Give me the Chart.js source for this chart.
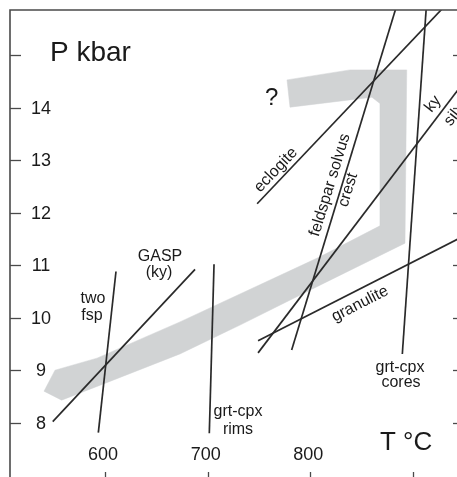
<!DOCTYPE html>
<html><head><meta charset="utf-8">
<script src="https://cdn.jsdelivr.net/npm/chart.js@4.4.0/dist/chart.umd.min.js"></script>
<style>html,body{margin:0;padding:0;background:#fff;overflow:hidden}#wrap{width:457px;height:477px;position:relative}</style>
</head><body><div id="wrap"><canvas id="c" width="457" height="477"></canvas></div>
<script>
// ---- axis ticks ----
const tempTicks = [600, 700, 800, 900];
const tempTickLabels = ['600', '700', '800', ''];
const presTicks = [8, 9, 10, 11, 12, 13, 14, 15];
const presTickLabels = ['8', '9', '10', '11', '12', '13', '14', ''];

// ---- reaction / thermometer lines (T °C, P kbar) ----
const twoFspT = [593.5, 610.7];     const twoFspP = [7.81, 10.88];
const gaspT = [549.1, 687.7];       const gaspP = [8.02, 10.92];
const rimsT = [701.6, 706.2];       const rimsP = [7.80, 11.02];
const eclogiteT = [748.2, 929.2];   const eclogiteP = [12.17, 15.90];
const solvusT = [781.8, 883.4];     const solvusP = [9.385, 15.90];
const kySilT = [749.1, 945.0];      const kySilP = [9.33, 14.37];
const granuliteT = [749.1, 945.0];  const granuliteP = [9.56, 11.51];
const coresT = [889.6, 912.9];      const coresP = [9.31, 15.90];

// ---- P-T path band outline ----
const bandT = [540.6, 551.3, 592.2, 673.0, 809.4, 867.8, 867.8, 860.0, 780.2, 777.3, 838.6, 893.9, 892.2, 809.4, 731.5, 673.0, 607.8, 557.8, 540.6];
const bandP = [8.60, 9.00, 9.23, 9.92, 11.16, 11.75, 14.08, 14.20, 14.01, 14.53, 14.72, 14.72, 11.42, 10.62, 9.86, 9.31, 8.81, 8.43, 8.60];

const T_MIN = 507.47, T_MAX = 942.86, P_MIN = 6.966, P_MAX = 15.861;
const INK = '#2a2a2a';
const FONT = "'Liberation Sans', Arial, sans-serif";

function pts(t, p) { return t.map((v, i) => ({x: v, y: p[i]})); }
function lineDs(t, p) {
  return {data: pts(t, p), showLine: true, borderColor: INK, borderWidth: 1.7, pointRadius: 0, fill: false, order: 0};
}

const framePlugin = {
  id: 'frame',
  afterDraw(chart) {
    const {ctx, chartArea: a, scales: {x, y}} = chart;
    ctx.save();
    ctx.strokeStyle = '#4a4a4a';
    ctx.lineWidth = 1.6;
    ctx.beginPath();
    ctx.moveTo(a.left, a.bottom + 2); ctx.lineTo(a.left, a.top); ctx.lineTo(a.right + 2, a.top);
    ctx.stroke();
    ctx.lineWidth = 1.3;
    presTicks.forEach(v => {
      const py = Math.round(y.getPixelForValue(v)) + 0.5;
      ctx.beginPath(); ctx.moveTo(a.left, py); ctx.lineTo(a.left + 11, py); ctx.stroke();
      ctx.beginPath(); ctx.moveTo(a.right - 4, py); ctx.lineTo(a.right + 2, py); ctx.stroke();
    });
    tempTicks.forEach(v => {
      const px = Math.round(x.getPixelForValue(v)) + 0.5;
      ctx.beginPath(); ctx.moveTo(px, a.bottom - 5); ctx.lineTo(px, a.bottom + 2); ctx.stroke();
    });
    ctx.fillStyle = '#1a1a1a';
    ctx.font = '18px ' + FONT;
    ctx.textAlign = 'center'; ctx.textBaseline = 'middle';
    presTicks.forEach((v, i) => { if (presTickLabels[i]) ctx.fillText(presTickLabels[i], a.left + 31, y.getPixelForValue(v) + 1); });
    tempTicks.forEach((v, i) => { if (tempTickLabels[i]) ctx.fillText(tempTickLabels[i], x.getPixelForValue(v) - 2, 455); });

    // axis titles
    ctx.textAlign = 'left'; ctx.textBaseline = 'alphabetic';
    ctx.font = '28px ' + FONT;
    ctx.fillText('P kbar', 50, 61);
    ctx.font = '26px ' + FONT;
    ctx.fillText('T °C', 380, 450);
    ctx.font = '24px ' + FONT;
    ctx.fillText('?', 265, 105);

    // curve labels
    ctx.font = '16px ' + FONT;
    ctx.textAlign = 'center';
    const plain = [
      ['two', 93, 303], ['fsp', 92, 320],
      ['GASP', 160, 261], ['(ky)', 159, 277],
      ['grt-cpx', 238, 416], ['rims', 238, 434],
      ['grt-cpx', 400, 372], ['cores', 401, 387]
    ];
    plain.forEach(([s, px, py]) => ctx.fillText(s, px, py));

    ctx.textBaseline = 'middle';
    const rot = [
      ['eclogite', 276, 170, -46.5],
      ['feldspar solvus', 330, 185, -73],
      ['crest', 348, 190, -73],
      ['granulite', 360, 304, -27],
      ['ky', 433, 104, -52],
      ['sil', 452, 118, -52]
    ];
    rot.forEach(([s, px, py, ang]) => {
      ctx.save(); ctx.translate(px, py); ctx.rotate(ang * Math.PI / 180);
      ctx.fillText(s, 0, 0); ctx.restore();
    });
    ctx.restore();
  }
};

new Chart(document.getElementById('c'), {
  type: 'scatter',
  data: {
    datasets: [
      lineDs(twoFspT, twoFspP),
      lineDs(gaspT, gaspP),
      lineDs(rimsT, rimsP),
      lineDs(eclogiteT, eclogiteP),
      lineDs(solvusT, solvusP),
      lineDs(kySilT, kySilP),
      lineDs(granuliteT, granuliteP),
      lineDs(coresT, coresP),
      {data: pts(bandT, bandP), showLine: true, fill: 'shape', backgroundColor: '#d1d3d4',
       borderColor: '#d1d3d4', borderWidth: 0.5, pointRadius: 0, order: 10, tension: 0}
    ]
  },
  options: {
    responsive: false,
    animation: false,
    devicePixelRatio: 1,
    layout: {padding: {left: 10, top: 10, right: 0, bottom: 0}},
    plugins: {legend: {display: false}, tooltip: {enabled: false}},
    scales: {
      x: {type: 'linear', display: false, min: T_MIN, max: T_MAX},
      y: {type: 'linear', display: false, min: P_MIN, max: P_MAX}
    }
  },
  plugins: [framePlugin]
});
</script>
</body></html>
